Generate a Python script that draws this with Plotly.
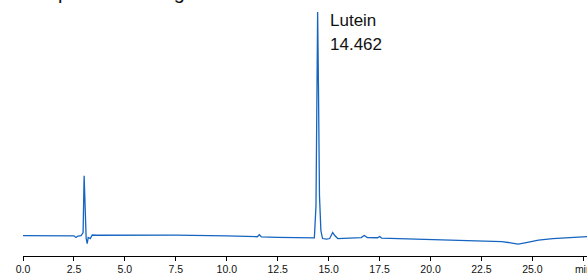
import plotly.graph_objects as go

# Chromatogram trace (retention time in min, detector signal in arbitrary units)
time_min = [0.0, 1.0, 2.0, 2.5, 2.6, 2.7, 2.85, 2.95, 3.0, 3.05, 3.1, 3.15, 3.2, 3.3, 3.4, 3.6,
            5.0, 7.5, 10.0, 11.5, 11.6, 11.7, 12.5, 14.0, 14.3, 14.38, 14.42, 14.46, 14.5,
            14.55, 14.62, 14.7, 14.9, 15.05, 15.2, 15.3, 15.45, 16.0, 16.6, 16.75, 16.9,
            17.4, 17.5, 17.6, 18.5, 20.0, 22.5, 23.5, 24.0, 24.3, 24.7, 25.3, 26.0, 27.7]
signal = [0.0, 0.0, 0.0, -0.3, -2.0, -0.5, 0.0, 3.0, 60.0, 20.0, -3.0, -8.0, -2.0, -3.0, 0.5, 0.3,
          0.3, 0.5, -0.3, -1.2, 0.8, -1.3, -1.8, -2.5, -2.3, 30.0, 180.0, 224.0, 150.0,
          40.0, 5.0, -3.0, -3.5, -3.0, 3.0, 0.0, -3.0, -2.5, -2.0, 0.0, -2.0,
          -2.2, -1.0, -2.5, -3.0, -4.0, -5.5, -6.0, -7.5, -8.5, -7.0, -4.5, -3.0, -1.0]

tick_vals = [0.0, 2.5, 5.0, 7.5, 10.0, 12.5, 15.0, 17.5, 20.0, 22.5, 25.0, 27.5]
tick_text = ["0.0", "2.5", "5.0", "7.5", "10.0", "12.5", "15.0", "17.5", "20.0", "22.5", "25.0", "min"]

peak_name = "Lutein"
peak_rt = "14.462"
title_text = "Sample chromatogram"

fig = go.Figure()
fig.add_trace(go.Scatter(x=time_min, y=signal, mode="lines",
                         line=dict(color="#1565c0", width=1.3), hoverinfo="skip"))

fig.add_annotation(x=14.98, y=215, xref="x", yref="y", text=peak_name, showarrow=False,
                   xanchor="left", yanchor="middle", font=dict(size=17, color="#111111"))
fig.add_annotation(x=14.98, y=191, xref="x", yref="y", text=peak_rt, showarrow=False,
                   xanchor="left", yanchor="middle", font=dict(size=17, color="#111111"))
fig.add_annotation(x=0, y=1, xref="paper", yref="paper", text=title_text, showarrow=False,
                   xanchor="left", yanchor="bottom", yshift=-5, xshift=-8,
                   font=dict(size=20, color="#111111"))

fig.update_layout(
    width=587, height=273,
    margin=dict(l=23, r=0, t=0, b=17),
    paper_bgcolor="white", plot_bgcolor="white",
    showlegend=False,
    font=dict(family="Liberation Sans, Arial, sans-serif", color="#111111"),
    xaxis=dict(range=[0, 27.68], tickmode="array", tickvals=tick_vals, ticktext=tick_text,
               automargin=False, ticklabeloverflow="allow", ticklabelstandoff=-1,
               showgrid=False, zeroline=False, showline=True, linecolor="black", linewidth=1,
               ticks="outside", ticklen=4, tickcolor="black", tickfont=dict(size=10.5)),
    yaxis=dict(range=[-20.5, 236], visible=False, automargin=False),
)

fig.write_html("out.html", config={"displayModeBar": False},
               post_script="document.body.style.margin='0';document.body.style.overflow='hidden';")
